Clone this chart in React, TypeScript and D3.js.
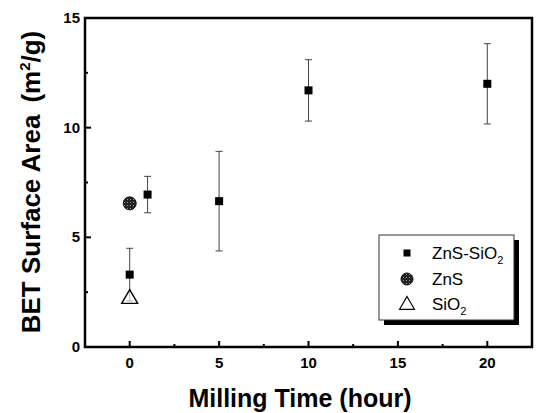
import { scaleLinear, range, symbol, symbolTriangle } from "d3";

// ZnS-SiO2 milled powder
const millingHours = [0, 1, 5, 10, 20];
const surfaceArea = [3.3, 6.95, 6.65, 11.7, 12.0];
const areaError = [1.2, 0.83, 2.27, 1.4, 1.83];

// reference powders
const znsHours = [0];
const znsArea = [6.55];
const sio2Hours = [0];
const sio2Area = [2.2];

const xTicks = [0, 5, 10, 15, 20];
const yTicks = [0, 5, 10, 15];

const width = 537;
const height = 413;
const margin = { left: 85, right: 5, top: 18, bottom: 66 };
const font = "'Liberation Sans', Arial, sans-serif";

export default function App() {
  const x = scaleLinear().domain([-2.5, 22.5]).range([margin.left, width - margin.right]);
  const y = scaleLinear().domain([0, 15]).range([height - margin.bottom, margin.top]);
  const [x0, x1] = x.range();
  const [y0, y1] = y.range();

  const xMinor = range(2.5, 22.5, 5);
  const yMinor = range(2.5, 15, 5);
  const tri = symbol().type(symbolTriangle).size(110)();
  const triSmall = symbol().type(symbolTriangle).size(95)();

  const legendRows = [253, 279, 304];
  const lx = 379, ly = 235, lw = 135, lh = 85;

  return (
    <svg width={width} height={height} style={{ position: "absolute", left: 0, top: 0, background: "#fff" }}>
      <defs>
        <pattern id="grid" width="3" height="3" patternUnits="userSpaceOnUse">
          <rect width="3" height="3" fill="#222" />
          <rect x="1" y="1" width="1" height="1" fill="#999" />
        </pattern>
      </defs>

      {/* frame */}
      <rect x={x0} y={y1} width={x1 - x0} height={y0 - y1} fill="none" stroke="#000" strokeWidth={2.5} />

      {/* x ticks */}
      {xTicks.map(t => (
        <g key={"xt" + t}>
          <line x1={x(t)} x2={x(t)} y1={y0} y2={y0 - 6} stroke="#000" strokeWidth={2} />
          <text x={x(t)} y={y0 + 21} textAnchor="middle" fontFamily={font} fontWeight="bold" fontSize={15}>{t}</text>
        </g>
      ))}
      {xMinor.map(t => (
        <line key={"xm" + t} x1={x(t)} x2={x(t)} y1={y0} y2={y0 - 3} stroke="#000" strokeWidth={2} />
      ))}

      {/* y ticks */}
      {yTicks.map(t => (
        <g key={"yt" + t}>
          <line x1={x0} x2={x0 + 6} y1={y(t)} y2={y(t)} stroke="#000" strokeWidth={2} />
          <text x={x0 - 5} y={y(t) + 5} textAnchor="end" fontFamily={font} fontWeight="bold" fontSize={15}>{t}</text>
        </g>
      ))}
      {yMinor.map(t => (
        <line key={"ym" + t} x1={x0} x2={x0 + 3} y1={y(t)} y2={y(t)} stroke="#000" strokeWidth={2} />
      ))}

      {/* axis titles */}
      <text x={300} y={407} textAnchor="middle" fontFamily={font} fontWeight="bold" fontSize={25}>
        Milling Time (hour)
      </text>
      <text transform={`translate(40, ${182}) rotate(-90)`} textAnchor="middle" fontFamily={font} fontWeight="bold" fontSize={26}>
        BET Surface Area
        <tspan dx={12}>(m</tspan>
        <tspan fontSize={15} dy={-10}>2</tspan>
        <tspan dy={10}>/g)</tspan>
      </text>

      {/* error bars */}
      {millingHours.map((h, i) => {
        const top = y(surfaceArea[i] + areaError[i]);
        const bot = y(surfaceArea[i] - areaError[i]);
        return (
          <g key={"eb" + i} stroke="#444" strokeWidth={1}>
            <line x1={x(h)} x2={x(h)} y1={top} y2={bot} />
            <line x1={x(h) - 3.5} x2={x(h) + 3.5} y1={top} y2={top} />
            <line x1={x(h) - 3.5} x2={x(h) + 3.5} y1={bot} y2={bot} />
          </g>
        );
      })}

      {/* SiO2 */}
      {sio2Hours.map((h, i) => (
        <path key={"si" + i} d={tri} transform={`translate(${x(h)},${y(sio2Area[i])})`} fill="#fff" fillOpacity={0.6} stroke="#000" strokeWidth={1.4} />
      ))}

      {/* ZnS-SiO2 */}
      {millingHours.map((h, i) => (
        <rect key={"sq" + i} x={x(h) - 4} y={y(surfaceArea[i]) - 4} width={8} height={8} fill="#000" />
      ))}

      {/* ZnS */}
      {znsHours.map((h, i) => (
        <circle key={"zn" + i} cx={x(h)} cy={y(znsArea[i])} r={6.5} fill="url(#grid)" stroke="#111" strokeWidth={1} />
      ))}

      {/* legend */}
      <rect x={lx + 5} y={ly + 5} width={lw} height={lh} fill="#000" />
      <rect x={lx} y={ly} width={lw} height={lh} fill="#fff" stroke="#333" strokeWidth={1} />
      <rect x={407 - 3.5} y={legendRows[0] - 3.5} width={7} height={7} fill="#000" />
      <circle cx={407} cy={legendRows[1]} r={6} fill="url(#grid)" stroke="#111" strokeWidth={1} />
      <path d={triSmall} transform={`translate(407,${legendRows[2] + 1})`} fill="none" stroke="#000" strokeWidth={1.2} />
      <g fontFamily={font} fontSize={17}>
        <text x={432} y={legendRows[0] + 6}>
          ZnS-SiO<tspan fontSize={11} dy={5}>2</tspan>
        </text>
        <text x={432} y={legendRows[1] + 6}>ZnS</text>
        <text x={432} y={legendRows[2] + 6}>
          SiO<tspan fontSize={11} dy={5}>2</tspan>
        </text>
      </g>
    </svg>
  );
}
